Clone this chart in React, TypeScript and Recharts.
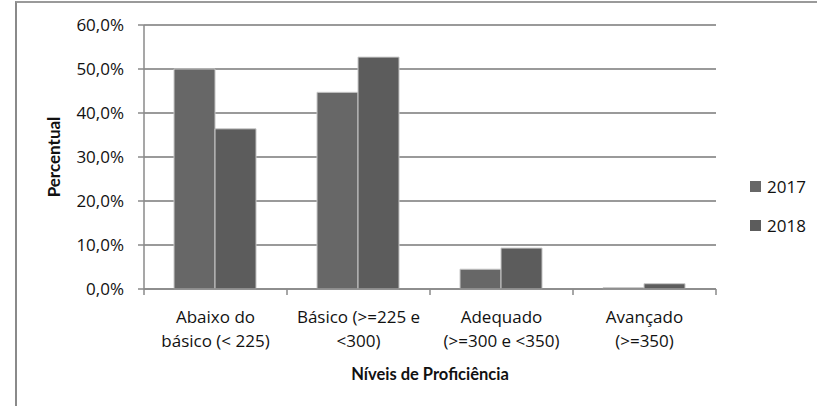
import { BarChart, Bar, XAxis, YAxis, CartesianGrid, Label } from 'recharts';

// níveis de proficiência (duas linhas por rótulo)
const levels = ['Abaixo do básico', 'Básico', 'Adequado', 'Avançado'];
const labelLines = [
  ['Abaixo do', 'básico (< 225)'],
  ['Básico (>=225 e', '<300)'],
  ['Adequado', '(>=300 e <350)'],
  ['Avançado', '(>=350)'],
];
const values2017 = [50.0, 44.7, 4.5, 0.3];
const values2018 = [36.4, 52.7, 9.3, 1.2];
const yTicks = [0, 10, 20, 30, 40, 50, 60];

const FONT = '"Open Sans", sans-serif';
const BOLD_FONT = 'Lato, sans-serif';
const AXIS = '#8a8a8a';
const C2017 = '#676767';
const C2018 = '#5c5c5c';

const data = levels.map((name, i) => ({
  name,
  y2017: values2017[i],
  y2018: values2018[i],
}));

function CategoryTick(props: any) {
  const { x, y, payload, index } = props;
  const half = payload.offset || 0;
  const lines: string[] = labelLines[index] || [];
  return (
    <g>
      <line x1={x - half} y1={y - 8} x2={x - half} y2={y - 2} stroke={AXIS} strokeWidth={1.5} />
      {index === levels.length - 1 && (
        <line x1={x + half} y1={y - 8} x2={x + half} y2={y - 2} stroke={AXIS} strokeWidth={1.5} />
      )}
      {lines.map((t, i) => (
        <text key={i} x={x} y={y + 26 + i * 23.5} textAnchor="middle" fontFamily={FONT} fontSize={17} fill="#111">
          {t}
        </text>
      ))}
    </g>
  );
}

const legendItems = [
  { label: '2017', color: C2017 },
  { label: '2018', color: C2018 },
];

export default function App() {
  return (
    <div style={{ position: 'absolute', left: 0, top: 0, width: 817, height: 406, background: '#fff' }}>
      <div
        style={{
          position: 'absolute',
          left: 15,
          top: 1,
          width: 802,
          height: 405,
          borderTop: '2px solid #9a9a9a',
          borderLeft: '2px solid #8a8a8a',
          boxSizing: 'border-box',
        }}
      />
      <BarChart
        width={817}
        height={406}
        data={data}
        margin={{ top: 25, right: 101, left: 0, bottom: 0 }}
        barCategoryGap="21%"
        barGap={0}
        style={{ position: 'absolute', left: 0, top: 0 }}
      >
        <CartesianGrid vertical={false} stroke="#9a9a9a" strokeWidth={2} />
        <XAxis
          dataKey="name"
          height={117}
          axisLine={{ stroke: AXIS, strokeWidth: 1.5 }}
          tickLine={false}
          tick={<CategoryTick />}
          interval={0}
        >
          <Label
            content={() => (
              <text x={430} y={380} textAnchor="middle" fontFamily={BOLD_FONT} fontSize={16.5} fontWeight="bold" fill="#111">
                Níveis de Proficiência
              </text>
            )}
          />
        </XAxis>
        <YAxis
          width={144}
          domain={[0, 60]}
          ticks={yTicks}
          interval={0}
          axisLine={{ stroke: AXIS, strokeWidth: 1.5 }}
          tickLine={{ stroke: AXIS, strokeWidth: 1.5 }}
          tickSize={6}
          tickMargin={14}
          tickFormatter={(v: number) => v.toFixed(1).replace('.', ',') + '%'}
          tick={{ fontFamily: FONT, fontSize: 17, fill: '#111' }}
        >
          <Label
            content={() => (
              <text
                x={60}
                y={157}
                transform="rotate(-90 60 157)"
                textAnchor="middle"
                fontFamily={BOLD_FONT}
                fontSize={17}
                fontWeight="bold"
                fill="#111"
              >
                Percentual
              </text>
            )}
          />
        </YAxis>
        <Bar dataKey="y2017" name="2017" fill={C2017} stroke="#c8c8c8" strokeWidth={1} isAnimationActive={false} />
        <Bar dataKey="y2018" name="2018" fill={C2018} stroke="#c8c8c8" strokeWidth={1} isAnimationActive={false} />
      </BarChart>
      <div style={{ position: 'absolute', left: 750, top: 167, fontFamily: FONT, fontSize: 17, color: '#111' }}>
        {legendItems.map((it) => (
          <div key={it.label} style={{ display: 'flex', alignItems: 'center', height: 39 }}>
            <span style={{ display: 'inline-block', width: 11, height: 11, background: it.color, marginRight: 6 }} />
            {it.label}
          </div>
        ))}
      </div>
    </div>
  );
}
